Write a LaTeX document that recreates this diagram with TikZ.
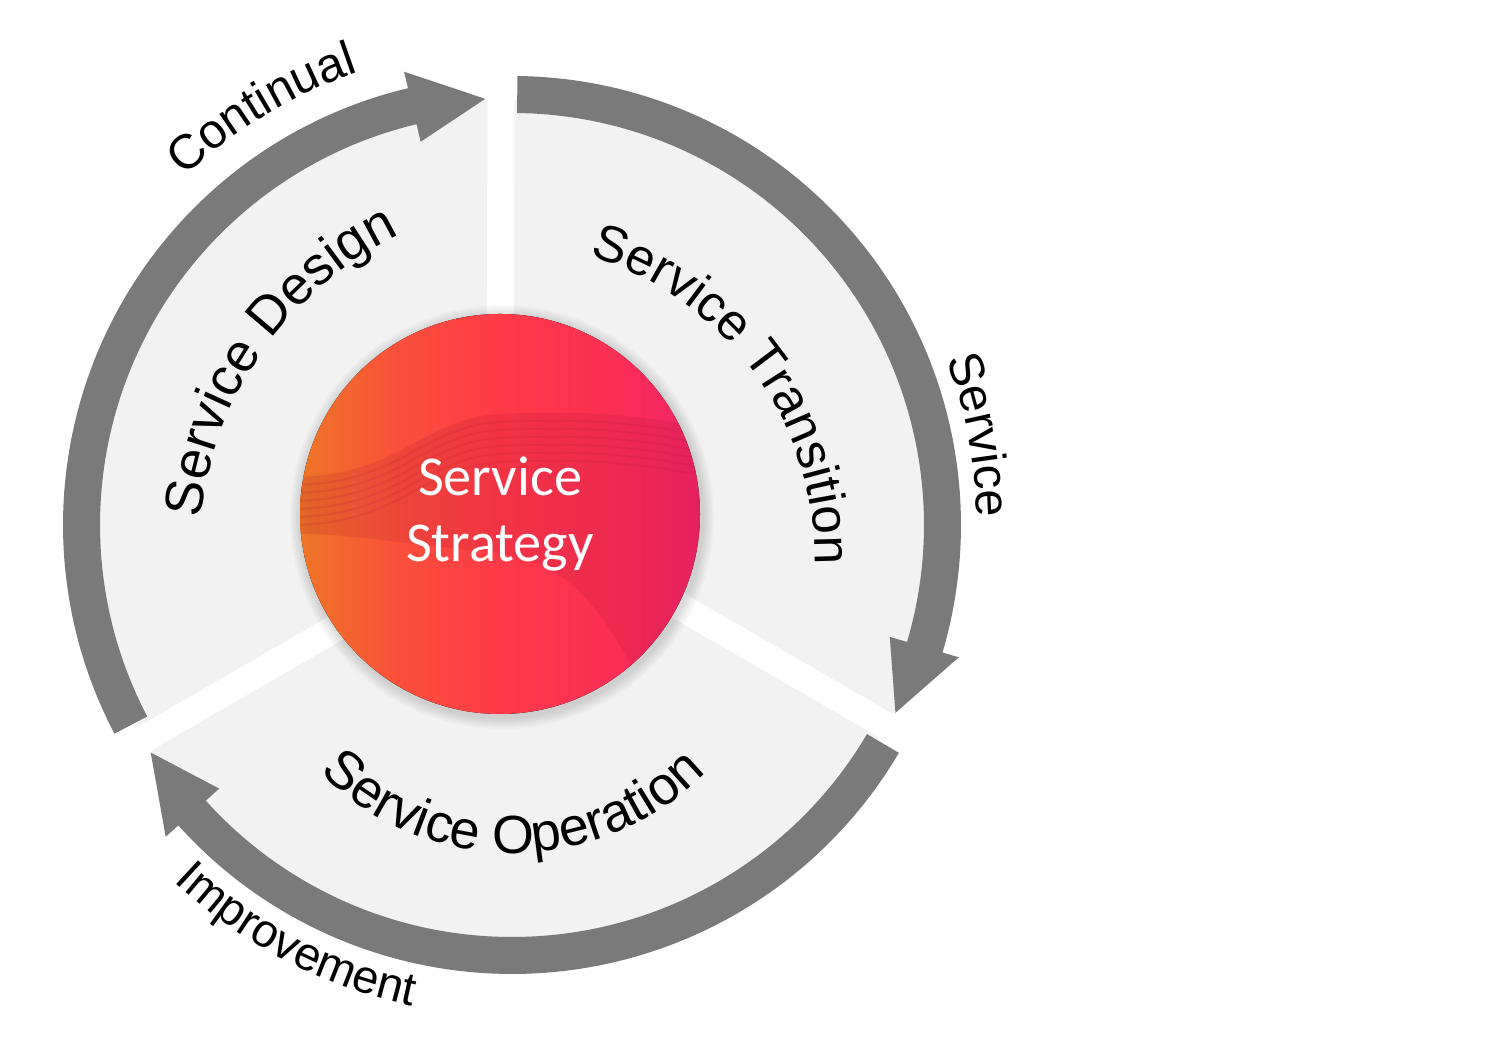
\documentclass[tikz,border=0pt]{standalone}
\usepackage{fontspec}
\setmainfont{Liberation Sans}
\newfontfamily\stratfont{Carlito}
\usetikzlibrary{decorations.text}
\definecolor{ringgray}{RGB}{122,122,122}
\definecolor{sectorgray}{RGB}{242,242,242}
\definecolor{stratorange}{RGB}{238,118,38}
\definecolor{stratcoral}{RGB}{250,80,58}
\definecolor{stratred}{RGB}{255,58,72}
\definecolor{stratrose}{RGB}{250,46,86}
\definecolor{stratpink}{RGB}{240,36,104}
\definecolor{stratdark}{RGB}{170,20,50}
\pgfdeclarehorizontalshading{stratshade}{100bp}{color(0bp)=(stratorange); color(25bp)=(stratorange);
  color(37bp)=(stratcoral); color(50bp)=(stratred); color(65bp)=(stratrose); color(75bp)=(stratpink); color(100bp)=(stratpink)}
\newcommand\inlbl{\fontsize{15.3}{18}\selectfont}
\newcommand\outlbl{\fontsize{13.8}{17}\selectfont}

\begin{document}
\begin{tikzpicture}[
  gap/.style={white,line width=0.27cm},
  ringarrow/.style={fill=ringgray},
  curved/.style={decorate,decoration={text along path,text align=center,text={#1}}}]
\useasboundingbox[fill=white] (0,0) rectangle (14.92,10.49);
\coordinate (O) at (5.12,5.24);
\coordinate (C) at (5.00,5.35);
\fill[sectorgray] (O) circle (4.25);
\draw[gap] (C) -- (5.01,9.8);
\draw[gap] (5.00,5.16) -- (0.87,2.77);
\draw[gap] (5.04,5.44) -- (9.37,2.94);
\begin{scope}[shift={(O)}]
  \foreach \ta/\hb/\tp in {207.7/103.4/93.6, 89.3/-16.5/-26.1, -30.5/-138/-147.8}
    \fill[ringarrow] (\ta:4.49) arc[start angle=\ta,end angle=\hb,radius=4.49]
      -- (\hb:4.66) -- (\tp:4.27) -- (\hb:3.94) -- (\hb:4.12)
      arc[start angle=\hb,end angle=\ta,radius=4.12] -- cycle;
\end{scope}
\path[curved={|\inlbl|Service Design}] ([shift={(215:3.56)}]5.55,4.94) arc[start angle=215,end angle=75,radius=3.56];
\path[curved={|\fontsize{14.6}{18}\selectfont|Service Transition}] ([shift={(86.2:3.16)}]4.99,4.90) arc[start angle=86.2,end angle=-13.8,radius=3.16];
\path[curved={|\inlbl|Service Operation}] ([shift={(-150:2.72)}]5.13,4.68) arc[start angle=-150,end angle=-30,radius=2.72];
\path[curved={|\outlbl|Continual}] ([shift={(151:4.78)}]O) arc[start angle=151,end angle=91,radius=4.78];
\path[curved={|\outlbl|Service}] ([shift={(40.9:4.65)}]O) arc[start angle=40.9,end angle=-19.1,radius=4.65];
\path[curved={|\fontsize{13.3}{17}\selectfont|Improvement}] ([shift={(212.4:4.91)}]O) arc[start angle=212.4,end angle=272.4,radius=4.91];
\foreach \k in {1,...,6}
  \fill[black,opacity=0.025] ([shift={(0.02,-0.03)}]C) circle ({2.0+0.02*\k});
\fill[shading=stratshade] (C) circle (2);
\begin{scope}
  \clip (C) circle (2);
  \fill[stratdark,opacity=0.16] (2.9,5.72) .. controls (4.0,5.72) and (4.2,6.3) .. (5.0,6.35)
    .. controls (6.0,6.4) and (6.6,6.3) .. (7.1,6.2) -- (7.1,3.0) -- (6.6,3.29)
    .. controls (6.2,4.0) and (5.9,4.9) .. (4.9,4.97) .. controls (4.0,5.05) and (3.5,5.16) .. (2.9,5.15) -- cycle;
  \foreach \d in {0.08,0.16,...,0.5}
    \draw[stratdark,opacity=0.12,line width=0.6pt,yshift=-\d cm] (2.9,5.72) .. controls (4.0,5.72) and (4.2,6.3) .. (5.0,6.35)
      .. controls (6.0,6.4) and (6.6,6.3) .. (7.1,6.2);
\end{scope}
\node[text=white,font=\stratfont\fontsize{16}{19}\selectfont,align=center] (strategy) at (C) {Service\\Strategy};
\end{tikzpicture}
\end{document}
